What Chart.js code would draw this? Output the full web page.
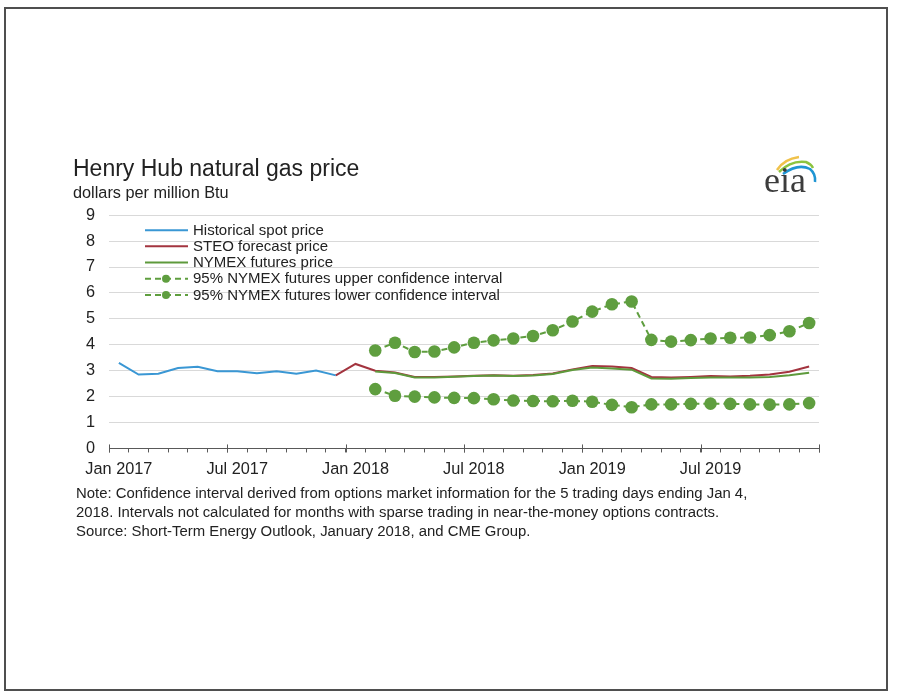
<!DOCTYPE html>
<html>
<head>
<meta charset="utf-8">
<script src="https://cdn.jsdelivr.net/npm/chart.js@4.4.1/dist/chart.umd.min.js"></script>
<style>
html, body { margin: 0; padding: 0; background: #fff; }
body { width: 900px; height: 696px; position: relative; overflow: hidden; font-family: 'Liberation Sans', Arial, sans-serif; }
#frame { position: absolute; left: 4px; top: 7px; width: 880px; height: 680px; border: 2px solid #4f4f4f; }
#gasChart { position: absolute; left: 60px; top: 150px; }
#note { position: absolute; left: 76px; top: 484px; font-size: 14.9px; line-height: 19px; color: #222; white-space: nowrap; }
#logo { position: absolute; left: 750px; top: 148px; }
</style>
</head>
<body>
<div id="frame"></div>
<canvas id="gasChart" width="780" height="336"></canvas>
<svg id="logo" width="72" height="55" viewBox="0 0 72 55">
  <path d="M27 22 Q34 11 49 9" stroke="#f0c24b" stroke-width="2.5" fill="none"/>
  <path d="M29 24 Q41 12 56 14 Q61 16 63 20" stroke="#8cc43f" stroke-width="2.5" fill="none"/>
  <path d="M33 26 Q48 15 60 21 Q66 26 65 34" stroke="#1f95d3" stroke-width="2.5" fill="none"/>
  <text x="14" y="44" font-family="Liberation Serif, serif" font-size="36" fill="#3c3c3c">eia</text>
</svg>
<div id="note">
  <div>Note: Confidence interval derived from options market information for the 5 trading days ending Jan 4,</div>
  <div>2018. Intervals not calculated for months with sparse trading in near-the-money options contracts.</div>
  <div>Source: Short-Term Energy Outlook, January 2018, and CME Group.</div>
</div>
<script>
const months = [
  'Jan 2017', 'Feb 2017', 'Mar 2017', 'Apr 2017', 'May 2017', 'Jun 2017',
  'Jul 2017', 'Aug 2017', 'Sep 2017', 'Oct 2017', 'Nov 2017', 'Dec 2017',
  'Jan 2018', 'Feb 2018', 'Mar 2018', 'Apr 2018', 'May 2018', 'Jun 2018',
  'Jul 2018', 'Aug 2018', 'Sep 2018', 'Oct 2018', 'Nov 2018', 'Dec 2018',
  'Jan 2019', 'Feb 2019', 'Mar 2019', 'Apr 2019', 'May 2019', 'Jun 2019',
  'Jul 2019', 'Aug 2019', 'Sep 2019', 'Oct 2019', 'Nov 2019', 'Dec 2019'
];
const tickLabels = ['Jan 2017', 'Jul 2017', 'Jan 2018', 'Jul 2018', 'Jan 2019', 'Jul 2019'];

const historical = [
  3.30, 2.85, 2.88, 3.10, 3.15, 2.98, 2.98, 2.90, 2.98, 2.88, 3.01, 2.82,
  null, null, null, null, null, null, null, null, null, null, null, null,
  null, null, null, null, null, null, null, null, null, null, null, null
];
const steoForecast = [
  null, null, null, null, null, null, null, null, null, null, null, 2.82,
  3.26, 3.00, 2.93, 2.76, 2.76, 2.78, 2.80, 2.82, 2.80, 2.83, 2.89, 3.05,
  3.18, 3.16, 3.10, 2.76, 2.74, 2.76, 2.79, 2.78, 2.80, 2.85, 2.96, 3.16
];
const nymexFutures = [
  null, null, null, null, null, null, null, null, null, null, null, null,
  null, 2.97, 2.91, 2.74, 2.74, 2.77, 2.79, 2.81, 2.79, 2.81, 2.87, 3.03,
  3.12, 3.08, 3.04, 2.70, 2.69, 2.72, 2.74, 2.74, 2.74, 2.76, 2.82, 2.92
];
const upperCI = [
  null, null, null, null, null, null, null, null, null, null, null, null,
  null, 3.78, 4.08, 3.72, 3.74, 3.90, 4.08, 4.17, 4.24, 4.34, 4.56, 4.90,
  5.28, 5.56, 5.67, 4.19, 4.12, 4.18, 4.24, 4.27, 4.28, 4.37, 4.52, 4.84
];
const lowerCI = [
  null, null, null, null, null, null, null, null, null, null, null, null,
  null, 2.29, 2.03, 2.00, 1.97, 1.95, 1.94, 1.90, 1.85, 1.83, 1.82, 1.84,
  1.80, 1.68, 1.59, 1.70, 1.70, 1.72, 1.73, 1.72, 1.70, 1.69, 1.70, 1.75
];

const fontFamily = "'Liberation Sans', Arial, sans-serif";
const blue = '#3a97d4';
const red = '#a3343f';
const green = '#5e9a3c';
const dotGreen = '#5f9e3f';

// legend drawn inside the plot, one row per series
const insideLegend = {
  id: 'insideLegend',
  afterDraw(chart) {
    const { ctx, chartArea } = chart;
    const x0 = chartArea.left + 36;
    const y0 = chartArea.top + 15;
    const rowH = 16.2;
    chart.data.datasets.forEach((ds, i) => {
      const y = y0 + i * rowH;
      ctx.save();
      ctx.strokeStyle = ds.borderColor;
      ctx.lineWidth = 2;
      ctx.setLineDash(ds.borderDash || []);
      ctx.beginPath();
      ctx.moveTo(x0, y);
      ctx.lineTo(x0 + 43, y);
      ctx.stroke();
      if (ds.pointRadius) {
        ctx.setLineDash([]);
        ctx.fillStyle = ds.pointBackgroundColor;
        ctx.beginPath();
        ctx.arc(x0 + 21, y, 4, 0, Math.PI * 2);
        ctx.fill();
      }
      ctx.fillStyle = '#222';
      ctx.font = '15px ' + fontFamily;
      ctx.textBaseline = 'middle';
      ctx.fillText(ds.label, x0 + 48, y + 0.5);
      ctx.restore();
    });
  }
};

// Jan/Jul tick marks also reach a little above the axis line
const majorTicks = {
  id: 'majorTicks',
  afterDraw(chart) {
    const x = chart.scales.x;
    const half = (x.getPixelForValue(1) - x.getPixelForValue(0)) / 2;
    const ctx = chart.ctx;
    ctx.save();
    ctx.strokeStyle = '#595959';
    ctx.lineWidth = 1;
    for (let k = 0; k <= months.length; k += 6) {
      const px = Math.round(x.getPixelForValue(k) - half) + 0.5;
      ctx.beginPath();
      ctx.moveTo(px, x.top - 4);
      ctx.lineTo(px, x.top + 4);
      ctx.stroke();
    }
    ctx.restore();
  }
};

const ctx = document.getElementById('gasChart').getContext('2d');
new Chart(ctx, {
  type: 'line',
  data: {
    labels: months,
    datasets: [
      {
        label: 'Historical spot price',
        data: historical,
        borderColor: blue,
        borderWidth: 2,
        pointRadius: 0,
        order: 3
      },
      {
        label: 'STEO forecast price',
        data: steoForecast,
        borderColor: red,
        borderWidth: 2,
        pointRadius: 0,
        order: 2
      },
      {
        label: 'NYMEX futures price',
        data: nymexFutures,
        borderColor: green,
        borderWidth: 2,
        pointRadius: 0,
        order: 1
      },
      {
        label: '95% NYMEX futures upper confidence interval',
        data: upperCI,
        borderColor: dotGreen,
        borderWidth: 2,
        borderDash: [6, 4],
        pointRadius: 6.3,
        pointBackgroundColor: dotGreen,
        pointBorderWidth: 0,
        order: 0
      },
      {
        label: '95% NYMEX futures lower confidence interval',
        data: lowerCI,
        borderColor: dotGreen,
        borderWidth: 2,
        borderDash: [6, 4],
        pointRadius: 6.3,
        pointBackgroundColor: dotGreen,
        pointBorderWidth: 0,
        order: 0
      }
    ]
  },
  options: {
    responsive: false,
    animation: false,
    devicePixelRatio: 1,
    layout: { padding: { left: 13, right: 21, top: 0, bottom: 0 } },
    plugins: {
      legend: { display: false },
      tooltip: { enabled: false },
      title: {
        display: true,
        text: 'Henry Hub natural gas price',
        align: 'start',
        color: '#222',
        font: { family: fontFamily, size: 23, weight: 'normal' },
        padding: { top: 6, bottom: 0 }
      },
      subtitle: {
        display: true,
        text: 'dollars per million Btu',
        align: 'start',
        color: '#222',
        font: { family: fontFamily, size: 16.3 },
        padding: { top: 0, bottom: 12 }
      }
    },
    scales: {
      x: {
        offset: true,
        grid: { offset: true, drawOnChartArea: false, tickLength: 4, color: '#595959' },
        border: { color: '#595959' },
        ticks: {
          autoSkip: false,
          maxRotation: 0,
          padding: 7,
          color: '#222',
          font: { family: fontFamily, size: 16.3 },
          callback: (v, i) => tickLabels.includes(months[i]) ? months[i] : ''
        }
      },
      y: {
        min: 0,
        max: 9,
        ticks: { stepSize: 1, padding: 14, color: '#222', font: { family: fontFamily, size: 16.3 } },
        grid: { color: '#d9d9d9', drawTicks: false },
        border: { display: false },
        afterFit(scale) { scale.width = 36; }
      }
    }
  },
  plugins: [insideLegend, majorTicks]
});
</script>
</body>
</html>
